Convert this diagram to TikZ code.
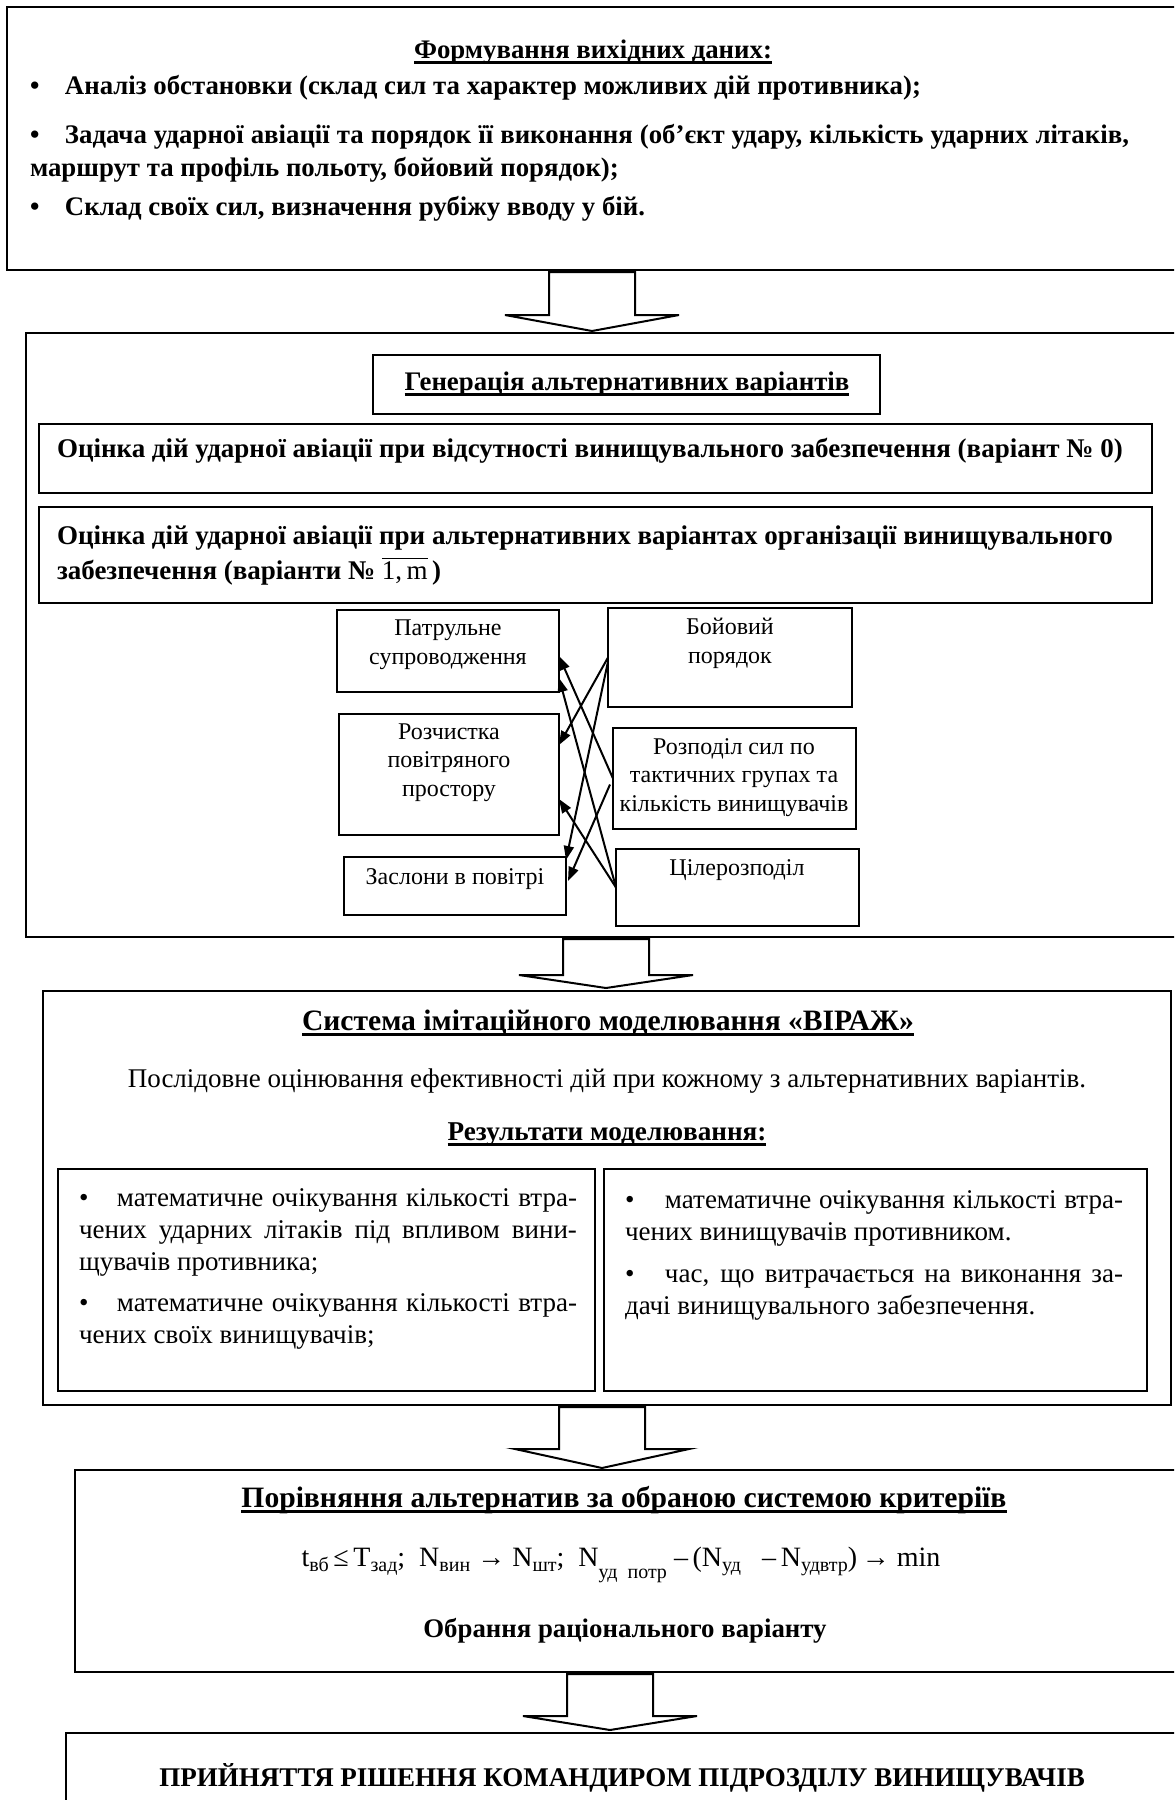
\documentclass[tikz,border=0pt]{standalone}
\usepackage{fontspec}
\setmainfont{Liberation Serif}
\usetikzlibrary{calc,arrows.meta}
\newcommand\myul[1]{\setbox0=\hbox{#1}\leavevmode\rlap{\copy0}\rule[-3pt]{\wd0}{1.3pt}}
\newcommand\jl[2]{\makebox[#1][s]{#2}}
\newcommand\bul[1]{\makebox[#1][l]{\textbullet}}
\newcommand\bx[6]{\node[box,#6,minimum width={(#4-#2)*0.5pt},minimum height={(#5-#3)*0.5pt}] (#1) at (#2,#3) {};}
\newcommand\blockarr[4]{\draw[barrow] ({#1-43},#2) -- ({#1-43},#3) -- ({#1-87},#3) -- (#1,#4) -- ({#1+87},#3) -- ({#1+43},#3) -- ({#1+43},#2) -- cycle;}
\newcommand\sbs[1]{\raisebox{-0.45ex}{\fontsize{10}{10}\selectfont #1}}
\newcommand\sbl[1]{\raisebox{-0.95ex}{\fontsize{10}{10}\selectfont #1}}
\begin{document}
\begin{tikzpicture}[x=0.5pt,y=-0.5pt,
  box/.style={draw,inner sep=0pt,outer sep=0pt,anchor=north west,line width=1pt},
  heavy/.style={line width=1.3pt},
  thin/.style={line width=0.75pt},
  txt/.style={inner sep=0pt,outer sep=0pt,anchor=base west,align=left},
  ctxt/.style={inner sep=0pt,outer sep=0pt,anchor=base,align=center},
  bodyb/.style={font=\fontsize{13.4}{16.5}\selectfont\bfseries},
  body/.style={font=\fontsize{13.5}{16}\selectfont},
  small/.style={font=\fontsize{12}{14.1}\selectfont},
  barrow/.style={draw,line width=1pt,line join=miter},
  xarr/.style={-{Triangle[length=7pt,width=5pt]},line width=1pt},
]
\useasboundingbox (0,0) rectangle (1174,1800);
\clip (0,0) rectangle (1174,1800);
\fill[white] (0,0) rectangle (1174,1800);
% boxes
\bx{b1}{7}{7}{1200}{270}{heavy}
\bx{b2}{26}{333}{1200}{937}{}
\bx{gen}{373}{355}{880}{414}{}
\bx{v0}{39}{424}{1152}{493}{}
\bx{vm}{39}{507}{1152}{603}{}
\bx{patr}{337}{610}{559}{692}{}
\bx{boi}{608}{608}{852}{707}{}
\bx{rozch}{339}{714}{559}{835}{}
\bx{rozp}{613}{728}{856}{829}{}
\bx{zasl}{344}{857}{566}{915}{}
\bx{tsil}{616}{849}{859}{926}{}
\bx{b3}{43}{991}{1171}{1405}{}
\bx{res1}{58}{1169}{595}{1391}{thin}
\bx{res2}{604}{1169}{1147}{1391}{thin}
\bx{b5}{75}{1470}{1200}{1672}{}
\bx{b6}{66}{1733}{1200}{1850}{heavy}
% block arrows
\blockarr{592}{272}{315}{331}
\blockarr{606}{939}{975}{988}
\blockarr{602}{1407}{1449}{1468}
\blockarr{610}{1674}{1716}{1730}
% box 1 text
\node[ctxt,bodyb] (t1) at (593,58) {\myul{Формування вихідних даних:}};
\node[txt,bodyb] (t1a) at (30,94) {\bul{17.5pt}Аналіз обстановки (склад сил та характер можливих дій противника);};
\node[txt,bodyb] (t1b) at (30,176) {\jl{549.5pt}{\bul{17.5pt}Задача ударної авіації та порядок її виконання (об’єкт удару, кількість ударних літаків,}\\маршрут та профіль польоту, бойовий порядок);};
\node[txt,bodyb] (t1c) at (30,215) {\bul{17.5pt}Склад своїх сил, визначення рубіжу вводу у бій.};
% box 2 text
\node[ctxt,bodyb] (t2) at (627,390) {\myul{Генерація альтернативних варіантів}};
\node[txt,font=\fontsize{13.5}{16.5}\selectfont\bfseries] (t3) at (57,457) {Оцінка дій ударної авіації при відсутності винищувального забезпечення (варіант № 0)};
\node[txt,font=\fontsize{13.5}{17.5}\selectfont\bfseries] (t4) at (57,579) {Оцінка дій ударної авіації при альтернативних варіантах організації винищувального\\забезпечення (варіанти № $\overline{\mbox{\mdseries 1,\,m}}$\,)};
% small boxes
\node[ctxt,small] (tp) at (448,664) {Патрульне\\супроводження};
\node[ctxt,small] (tb) at (730,663) {Бойовий\\порядок};
\node[ctxt,small] (tr) at (449,796) {Розчистка\\повітряного\\простору};
\node[ctxt,small] (trp) at (734,811) {Розподіл сил по\\тактичних групах та\\кількість винищувачів};
\node[ctxt,small] (tz) at (455,884) {Заслони в повітрі};
\node[ctxt,small] (tc) at (737,875) {Цілерозподіл};
% crossing arrows
\draw[xarr] (boi.west) -- ($(rozch.north east)+(0,31)$);
\draw[xarr] ($(boi.west)+(0,4)$) -- ($(zasl.north east)+(0,3)$);
\draw[xarr] (rozp.west) -- ($(patr.north east)+(0,46)$);
\draw[xarr] ($(rozp.west)+(-3,6)$) -- ($(zasl.north east)+(2,24)$);
\draw[xarr] (tsil.west) -- ($(patr.north east)+(0,68)$);
\draw[xarr] (tsil.west) -- ($(rozch.north east)+(0,85)$);
% box 3 text
\node[ctxt,font=\fontsize{14.8}{18}\selectfont\bfseries] (t5) at (608,1030) {\myul{Система імітаційного моделювання «ВІРАЖ»}};
\node[ctxt,body] (t6) at (607,1087) {Послідовне оцінювання ефективності дій при кожному з альтернативних варіантів.};
\node[ctxt,font=\fontsize{13.6}{16}\selectfont\bfseries] (t7) at (607,1140) {\myul{Результати моделювання:}};
\node[txt,body] (t8) at (79,1343) {\jl{249pt}{\bul{19pt}математичне очікування кількості втра-}\\\jl{249pt}{чених ударних літаків під впливом вини-}\\щувачів противника;\\[4.5pt]\jl{249pt}{\bul{19pt}математичне очікування кількості втра-}\\чених своїх винищувачів;};
\node[txt,body] (t9) at (625,1314) {\jl{249pt}{\bul{20pt}математичне очікування кількості втра-}\\чених винищувачів противником.\\[5pt]\jl{249pt}{\bul{20pt}час, що витрачається на виконання за-}\\дачі винищувального забезпечення.};
% box 5 text
\node[ctxt,font=\fontsize{14.8}{17}\selectfont\bfseries] (t10) at (624,1507) {\myul{Порівняння альтернатив за обраною системою критеріїв}};
\node[ctxt,font=\fontsize{14}{16}\selectfont] (t11) at (621,1566) {t\sbs{вб}\,≤\,T\sbs{зад}; \ N\sbs{вин}\ →\ N\sbs{шт}; \ N\sbl{уд\ \ потр}\ –\,(N\sbs{уд}\ \ \ –\,N\sbs{удвтр})\,→\ min};
\node[ctxt,bodyb] (t12) at (625,1637) {Обрання раціонального варіанту};
% box 6 text
\node[ctxt,font=\fontsize{13.5}{16}\selectfont\bfseries] (t13) at (622,1786) {ПРИЙНЯТТЯ РІШЕННЯ КОМАНДИРОМ ПІДРОЗДІЛУ ВИНИЩУВАЧІВ};
\end{tikzpicture}
\end{document}
